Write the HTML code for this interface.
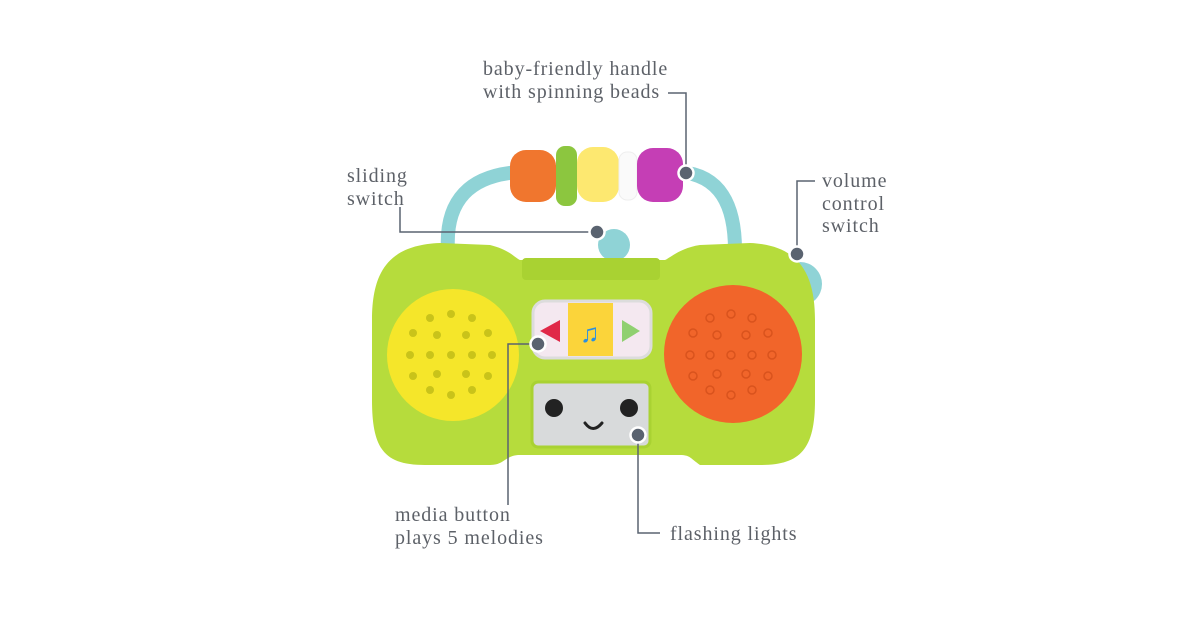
<!DOCTYPE html>
<html><head><meta charset="utf-8"><style>
html,body{margin:0;padding:0;background:#fff;}
svg{display:block}
text{font-family:"Liberation Serif",serif;font-size:20px;letter-spacing:0.9px;fill:#5d6168;}
</style></head><body>
<svg width="1200" height="630" viewBox="0 0 1200 630" xmlns="http://www.w3.org/2000/svg">
<!-- handle -->
<path d="M448 250 C445 200 470 175 520 172 L680 172 C720 175 735 205 735 250" fill="none" stroke="#8fd3d6" stroke-width="14" stroke-linecap="round"/>
<!-- beads -->
<rect x="510" y="150" width="46" height="52" rx="16" fill="#f0762e"/>
<rect x="556" y="146" width="21" height="60" rx="9" fill="#8cc63f"/>
<rect x="577" y="147" width="42" height="55" rx="16" fill="#fde870"/>
<rect x="619" y="152" width="18" height="48" rx="8" fill="#fafafa" stroke="#eee"/>
<rect x="637" y="148" width="46" height="54" rx="16" fill="#c53eb5"/>
<!-- volume wheel -->
<circle cx="800" cy="284" r="22" fill="#8fd3d6"/>
<!-- slider -->
<circle cx="614" cy="245" r="16" fill="#8fd3d6"/>
<!-- body -->
<path d="M372 320 C372 270 390 245 440 243 L490 245 C510 250 515 258 520 260 L665 260 C670 258 680 248 700 245 L750 243 C800 245 815 275 815 320 L815 400 C815 450 800 465 760 465 L700 465 C690 458 690 455 680 455 L520 455 C505 455 505 465 490 465 L425 465 C385 465 372 450 372 400 Z" fill="#b6dc3c"/>
<rect x="522" y="258" width="138" height="22" rx="4" fill="#a9d232"/>
<!-- speakers -->
<circle cx="453" cy="355" r="66" fill="#f5e62a"/>
<circle cx="733" cy="354" r="69" fill="#f1652a"/>
<g fill="#c9c31a">
<circle cx="430" cy="318" r="4"/><circle cx="451" cy="314" r="4"/><circle cx="472" cy="318" r="4"/>
<circle cx="413" cy="333" r="4"/><circle cx="437" cy="335" r="4"/><circle cx="466" cy="335" r="4"/><circle cx="488" cy="333" r="4"/>
<circle cx="410" cy="355" r="4"/><circle cx="430" cy="355" r="4"/><circle cx="451" cy="355" r="4"/><circle cx="472" cy="355" r="4"/><circle cx="492" cy="355" r="4"/>
<circle cx="413" cy="376" r="4"/><circle cx="437" cy="374" r="4"/><circle cx="466" cy="374" r="4"/><circle cx="488" cy="376" r="4"/>
<circle cx="430" cy="390" r="4"/><circle cx="451" cy="395" r="4"/><circle cx="472" cy="390" r="4"/>
</g>
<g fill="none" stroke="#d9531d" stroke-width="1.5">
<circle cx="710" cy="318" r="4"/><circle cx="731" cy="314" r="4"/><circle cx="752" cy="318" r="4"/>
<circle cx="693" cy="333" r="4"/><circle cx="717" cy="335" r="4"/><circle cx="746" cy="335" r="4"/><circle cx="768" cy="333" r="4"/>
<circle cx="690" cy="355" r="4"/><circle cx="710" cy="355" r="4"/><circle cx="731" cy="355" r="4"/><circle cx="752" cy="355" r="4"/><circle cx="772" cy="355" r="4"/>
<circle cx="693" cy="376" r="4"/><circle cx="717" cy="374" r="4"/><circle cx="746" cy="374" r="4"/><circle cx="768" cy="376" r="4"/>
<circle cx="710" cy="390" r="4"/><circle cx="731" cy="395" r="4"/><circle cx="752" cy="390" r="4"/>
</g>
<!-- media button -->
<rect x="533" y="301" width="118" height="57" rx="12" fill="#f4e8f0" stroke="#dcdcdc" stroke-width="3"/>
<rect x="568" y="303" width="45" height="53" fill="#fbd43a"/>
<polygon points="540,331 560,320 560,342" fill="#e02848"/>
<polygon points="640,331 622,320 622,342" fill="#8fd070"/>
<text x="580" y="342" style="fill:#2a8fe0;font-size:26px;letter-spacing:0">♫</text>
<!-- screen -->
<rect x="532" y="382" width="118" height="65" rx="6" fill="#d8dadb" stroke="#a9d232" stroke-width="3"/>
<circle cx="554" cy="408" r="9" fill="#222"/><circle cx="629" cy="408" r="9" fill="#222"/>
<path d="M585 423 Q593 434 602 423" fill="none" stroke="#222" stroke-width="3" stroke-linecap="round"/>
<!-- callouts -->
<g fill="none" stroke="#5a6370" stroke-width="1.5">
<polyline points="668,93 686,93 686,172"/>
<polyline points="400,207 400,232 597,232"/>
<polyline points="815,181 797,181 797,254"/>
<polyline points="538,344 508,344 508,505"/>
<polyline points="638,435 638,533 660,533"/>
</g>
<g fill="#5a6370" stroke="#fff" stroke-width="2.5">
<circle cx="686" cy="173" r="7.5"/><circle cx="597" cy="232" r="7.5"/><circle cx="797" cy="254" r="7.5"/>
<circle cx="538" cy="344" r="7.5"/><circle cx="638" cy="435" r="7.5"/>
</g>
<text x="483" y="75">baby-friendly handle</text>
<text x="483" y="98">with spinning beads</text>
<text x="347" y="182">sliding</text>
<text x="347" y="205">switch</text>
<text x="822" y="187">volume</text>
<text x="822" y="210">control</text>
<text x="822" y="232">switch</text>
<text x="395" y="521">media button</text>
<text x="395" y="544">plays 5 melodies</text>
<text x="670" y="540">flashing lights</text>
</svg>
</body></html>
